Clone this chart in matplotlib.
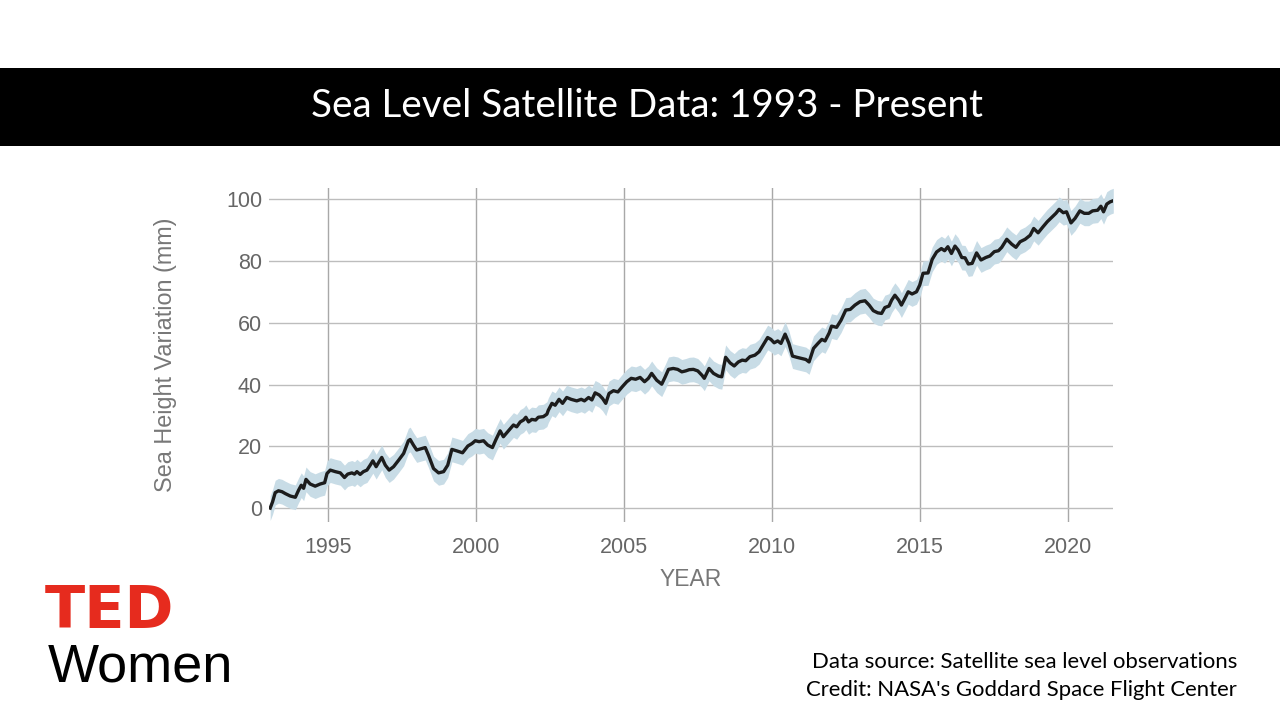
import matplotlib
matplotlib.use("Agg")
import matplotlib.pyplot as plt
import numpy as np

# ---- data ----
years = [1993.04, 1993.12, 1993.21, 1993.32, 1993.44, 1993.55, 1993.72, 1993.89,
         1994.00, 1994.09, 1994.17, 1994.25, 1994.39, 1994.56, 1994.73, 1994.88,
         1994.96, 1995.07, 1995.24, 1995.41, 1995.55, 1995.66, 1995.80, 1995.89,
         1995.97, 1996.08, 1996.19, 1996.31, 1996.42, 1996.51, 1996.62, 1996.70,
         1996.81, 1996.93, 1997.06, 1997.21, 1997.38, 1997.55, 1997.71, 1997.77,
         1997.88, 1997.99, 1998.17, 1998.28, 1998.39, 1998.56, 1998.73, 1998.90,
         1999.04, 1999.18, 1999.35, 1999.54, 1999.72, 1999.86, 1999.97, 2000.10,
         2000.25, 2000.39, 2000.55, 2000.66, 2000.81, 2000.92, 2001.09, 2001.26,
         2001.37, 2001.49, 2001.60, 2001.68, 2001.77, 2001.88, 2002.01, 2002.10,
         2002.27, 2002.39, 2002.44, 2002.56, 2002.67, 2002.80, 2002.92, 2003.06,
         2003.21, 2003.40, 2003.55, 2003.66, 2003.80, 2003.91, 2004.02, 2004.16,
         2004.27, 2004.38, 2004.49, 2004.64, 2004.79, 2004.94, 2005.09, 2005.24,
         2005.39, 2005.54, 2005.69, 2005.82, 2005.93, 2006.10, 2006.27, 2006.38,
         2006.50, 2006.66, 2006.81, 2006.95, 2007.08, 2007.20, 2007.34, 2007.49,
         2007.63, 2007.71, 2007.87, 2008.02, 2008.19, 2008.30, 2008.43, 2008.58,
         2008.72, 2008.86, 2008.99, 2009.11, 2009.25, 2009.42, 2009.56, 2009.70,
         2009.85, 2009.96, 2010.07, 2010.19, 2010.30, 2010.44, 2010.57, 2010.69,
         2010.84, 2011.01, 2011.14, 2011.25, 2011.40, 2011.55, 2011.68, 2011.79,
         2011.93, 2012.01, 2012.18, 2012.33, 2012.49, 2012.64, 2012.80, 2012.97,
         2013.14, 2013.28, 2013.42, 2013.57, 2013.70, 2013.81, 2013.95, 2014.04,
         2014.15, 2014.28, 2014.37, 2014.49, 2014.60, 2014.73, 2014.88, 2014.99,
         2015.10, 2015.27, 2015.41, 2015.56, 2015.72, 2015.83, 2015.94, 2016.06,
         2016.18, 2016.29, 2016.41, 2016.52, 2016.63, 2016.76, 2016.91, 2017.06,
         2017.22, 2017.36, 2017.51, 2017.65, 2017.76, 2017.93, 2018.10, 2018.24,
         2018.38, 2018.55, 2018.72, 2018.84, 2018.99, 2019.15, 2019.30, 2019.42,
         2019.59, 2019.70, 2019.84, 2019.95, 2020.10, 2020.24, 2020.40, 2020.55,
         2020.70, 2020.83, 2021.00, 2021.11, 2021.20, 2021.31, 2021.42, 2021.53]

sea_height_mm = [0.0, 2.0, 5.0, 5.6, 5.3, 4.7, 3.9, 3.5,
                 5.8, 7.4, 6.4, 9.3, 7.8, 7.1, 7.8, 8.2,
                 11.2, 12.3, 11.8, 11.4, 9.9, 11.0, 11.4, 11.0,
                 11.8, 10.9, 11.8, 12.3, 13.9, 15.3, 13.4, 14.7,
                 16.4, 13.9, 12.3, 13.4, 15.5, 17.7, 21.8, 22.2,
                 20.4, 18.8, 19.3, 19.6, 17.1, 12.8, 11.4, 11.8,
                 13.9, 19.0, 18.5, 17.9, 20.1, 20.9, 21.8, 21.5,
                 21.8, 20.4, 19.6, 22.0, 25.0, 23.1, 25.0, 26.9,
                 26.3, 27.9, 28.5, 29.4, 27.9, 28.7, 28.5, 29.4,
                 29.6, 30.4, 31.7, 33.9, 33.3, 35.2, 33.9, 35.8,
                 35.2, 34.7, 35.2, 34.7, 35.8, 35.0, 37.3, 36.6,
                 35.5, 33.9, 37.1, 38.0, 37.6, 39.3, 40.9, 42.0,
                 41.7, 42.3, 40.9, 42.0, 43.6, 41.4, 40.1, 42.3,
                 44.9, 45.2, 44.9, 44.1, 44.4, 44.8, 44.9, 44.4,
                 43.0, 42.0, 45.2, 43.6, 42.7, 42.5, 48.8, 47.0,
                 46.0, 47.3, 47.9, 47.7, 49.0, 49.5, 50.6, 52.8,
                 55.2, 54.6, 53.5, 54.1, 53.3, 56.3, 53.3, 49.2,
                 48.8, 48.4, 48.1, 47.3, 51.7, 53.3, 54.6, 54.1,
                 56.7, 58.9, 58.5, 60.8, 64.1, 64.3, 65.7, 66.8,
                 67.1, 65.7, 63.9, 63.2, 63.0, 64.9, 65.4, 67.3,
                 68.9, 67.3, 65.7, 67.9, 70.0, 69.3, 70.0, 72.2,
                 76.0, 76.1, 80.5, 82.9, 84.0, 83.3, 84.6, 82.4,
                 84.8, 83.5, 81.1, 81.0, 79.0, 79.2, 82.6, 80.3,
                 81.1, 81.6, 83.0, 83.3, 84.4, 87.0, 85.4, 84.4,
                 86.2, 87.0, 88.3, 90.5, 89.1, 91.0, 92.7, 93.8,
                 95.4, 96.7, 95.6, 95.9, 92.3, 93.8, 96.2, 95.4,
                 95.4, 96.2, 96.4, 97.7, 95.9, 98.4, 99.1, 99.5]

uncertainty_mm = 4.0

x_ticks = [1995, 2000, 2005, 2010, 2015, 2020]
y_ticks = [0, 20, 40, 60, 80, 100]

title_text = "Sea Level Satellite Data: 1993 - Present"
source_lines = ["Data source: Satellite sea level observations",
                "Credit: NASA's Goddard Space Flight Center"]

# ---- figure ----
W, H = 1280, 720
fig = plt.figure(figsize=(12.8, 7.2), dpi=100)
fig.patch.set_facecolor("white")

# title banner
banner = fig.add_axes([0, 1 - 146 / H, 1, (146 - 68) / H])
banner.set_facecolor("black")
banner.set_xticks([]); banner.set_yticks([])
for s in banner.spines.values():
    s.set_visible(False)
fig.text(647 / W, 1 - 106 / H, title_text, color="white", fontsize=27.8,
         family=["Lato", "DejaVu Sans"], ha="center", va="center")

# main chart
left, right, top, bottom = 269, 1113, 188, 522
ax = fig.add_axes([left / W, 1 - bottom / H, (right - left) / W, (bottom - top) / H])
yr = np.array(years)
v = np.array(sea_height_mm)
ax.fill_between(yr, v - uncertainty_mm, v + uncertainty_mm, color="#c8dce6", lw=0)
ax.plot(yr, v, color="#1c1c1c", lw=2.4, solid_joinstyle="round")

ax.set_xlim(1993.0, 2021.52)
ax.set_ylim(-4.5, 103.6)
ax.set_xticks(x_ticks)
ax.set_yticks(y_ticks)
ax.grid(True, axis="y", color="#bdbdbd", lw=1.0)
ax.grid(True, axis="x", color="#a8a8a8", lw=1.0)
ax.set_axisbelow(True)
for s in ax.spines.values():
    s.set_visible(False)
ax.tick_params(length=0, labelsize=15.5, labelcolor="#666666")
ax.tick_params(axis="x", pad=11)
ax.tick_params(axis="y", pad=5)
for lab in ax.get_xticklabels() + ax.get_yticklabels():
    lab.set_family(["Liberation Sans", "DejaVu Sans"])
ax.set_xlabel("YEAR", fontsize=16.5, color="#777777",
              family=["Liberation Sans", "DejaVu Sans"], labelpad=7)
ax.set_ylabel("Sea Height Variation (mm)", fontsize=16.8, color="#777777",
              family=["Liberation Sans", "DejaVu Sans"], labelpad=35)

# TED Women logo
fig.text(45 / W, 1 - 628 / H, "TED", color="#e62b1e", fontsize=42.5, fontweight="bold",
         family=["DejaVu Sans"], ha="left", va="baseline")
fig.text(48 / W, 1 - 682 / H, "Women", color="black", fontsize=39,
         family=["Liberation Sans", "DejaVu Sans"], ha="left", va="baseline")

# source text
fig.text(1237 / W, 1 - 662 / H, source_lines[0], fontsize=15.9, color="black",
         family=["Lato", "DejaVu Sans"], ha="right", va="center")
fig.text(1237 / W, 1 - 690 / H, source_lines[1], fontsize=15.9, color="black",
         family=["Lato", "DejaVu Sans"], ha="right", va="center")

fig.savefig("out.png", dpi=100, facecolor="white")
